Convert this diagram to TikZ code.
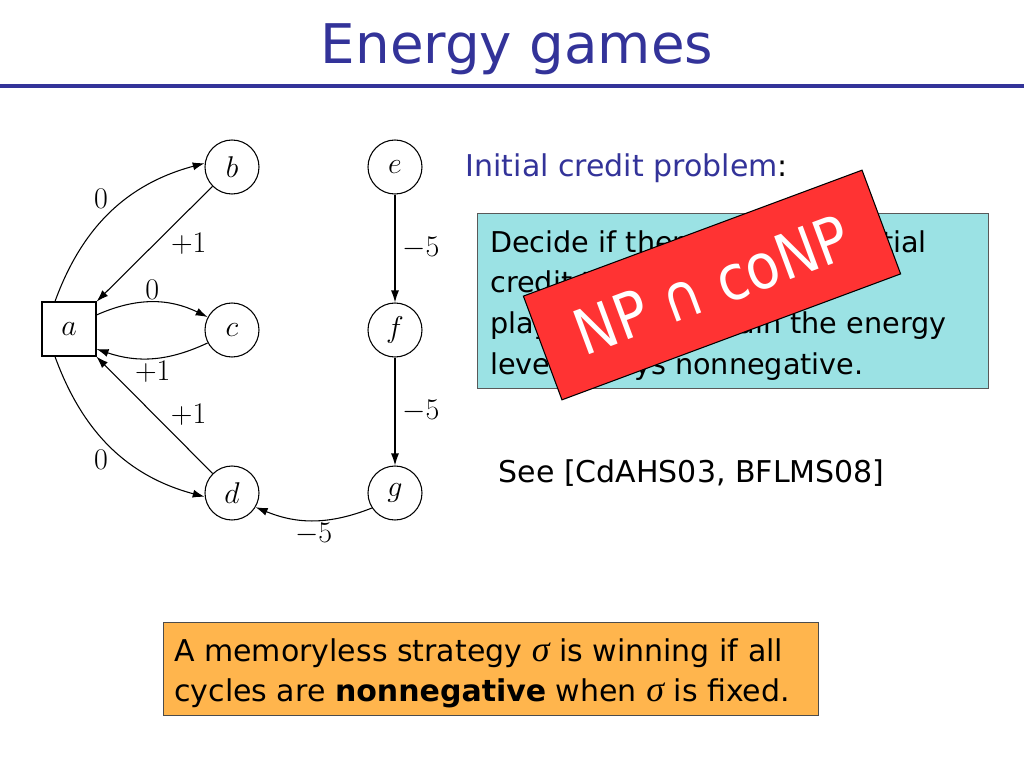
\RequirePackage{fix-cm}
\documentclass[tikz,border=0pt]{standalone}
\usepackage{amsmath}
\usepackage{amssymb}
\usepackage[no-math]{fontspec}
\setmainfont{DejaVu Sans}
\usetikzlibrary{arrows.meta}

\definecolor{slideblue}{RGB}{51,51,153}
\definecolor{boxcyan}{RGB}{155,226,228}
\definecolor{boxorange}{RGB}{255,181,77}
\definecolor{stampred}{RGB}{255,51,51}

\newcommand{\bodyfont}{\fontsize{22.5}{30}\selectfont}
\newcommand{\gamefont}{\fontsize{22.5}{22.5}\selectfont}
\newfontfamily\stampfont[FakeStretch=0.88]{DejaVu Sans}
\newfontfamily\greekfont{Liberation Serif}
\newcommand{\strat}{{\greekfont\itshape\fontsize{27}{30}\selectfont σ}}

\tikzset{
  heading/.style={anchor=base, text=slideblue, font=\fontsize{41}{49}\selectfont},
  state/.style={draw, circle, minimum size=40.5pt, inner sep=0pt, line width=0.8pt, font=\gamefont},
  player/.style={draw, rectangle, minimum size=40.5pt, inner sep=0pt, line width=0.8pt, font=\gamefont},
  edge/.style={line width=0.8pt, -{Latex[length=9pt,width=6pt]}, font=\gamefont,
    every node/.style={inner sep=2pt}},
  qbox/.style={draw=black!65, fill=boxcyan, line width=0.8pt},
  tipbox/.style={draw=black!70, fill=boxorange, line width=0.8pt},
  stamp/.style={draw=black, fill=stampred, line width=0.8pt, text=white,
    minimum width=271pt, minimum height=83pt, font=\stampfont\fontsize{47}{47}\selectfont},
  plain/.style={anchor=north west, inner sep=0pt, align=left}
}

\begin{document}
\begin{tikzpicture}[x=0.75pt, y=0.75pt]
  \useasboundingbox (0,0) rectangle (1024,-768);

  % title
  \node [heading] (title) at (517,-63) {Energy games};
  \draw [slideblue, line width=3pt] (0,-86) -- (1024,-86);

  % the game
  \node [player] (a) at (69,-329) {$a$};
  \node [state] (b) at (232,-167) {$b$};
  \node [state] (c) at (232,-330) {$c$};
  \node [state] (d) at (232,-493) {$d$};
  \node [state] (e) at (395,-167) {$e$};
  \node [state] (f) at (395,-330) {$f$};
  \node [state] (g) at (395,-493) {$g$};

  \draw [edge] (a.117) to [out=70,in=195] node [above left] {$0$} (b.172);
  \draw [edge] (b) -- node [right=10pt] {$+1$} (a);
  \draw [edge] (a.27) to [bend left=25] node [above] {$0$} (c.152);
  \draw [edge] (c.208) to [bend left=22] node [below] {$+1$} (a.-36);
  \draw [edge] (d) -- node [right=10pt] {$+1$} (a);
  \draw [edge] (a.-117) to [out=-70,in=165] node [below left] {$0$} (d.188);
  \draw [edge] (e) -- node [right=3pt] {$-5$} (f);
  \draw [edge] (f) -- node [right=3pt] {$-5$} (g);
  \draw [edge] (g.213) to [bend left=22] node [below] {$-5$} (d.329);

  % the problem
  \node [anchor=base west, font=\bodyfont] (problem) at (461,-176)
    {{\color{slideblue}Initial credit problem}:};
  \node [qbox, minimum width=383.25pt, minimum height=131.25pt, anchor=north west]
    (question) at (477,-213) {};
  \node [plain, font=\fontsize{21.5}{30.5}\selectfont] (questiontext) at (490,-230)
    {Decide if there exists an initial\\credit that is sufficient for\\player 1 to maintain the energy\\level always nonnegative.};
  \node [stamp, rotate=20.4] (np) at (712,-285) {NP ∩ coNP};

  \node [anchor=base west, font=\bodyfont] (refs) at (494,-482) {See [CdAHS03, BFLMS08]};

  % the claim
  \node [tipbox, minimum width=491.25pt, minimum height=69.75pt, anchor=north west]
    (tip) at (163,-622) {};
  \node [plain, font=\bodyfont] (tiptext) at (174,-638)
    {A memoryless strategy \strat\ is winning if all\\cycles are \textbf{nonnegative} when \strat\ is fixed.};
\end{tikzpicture}
\end{document}
